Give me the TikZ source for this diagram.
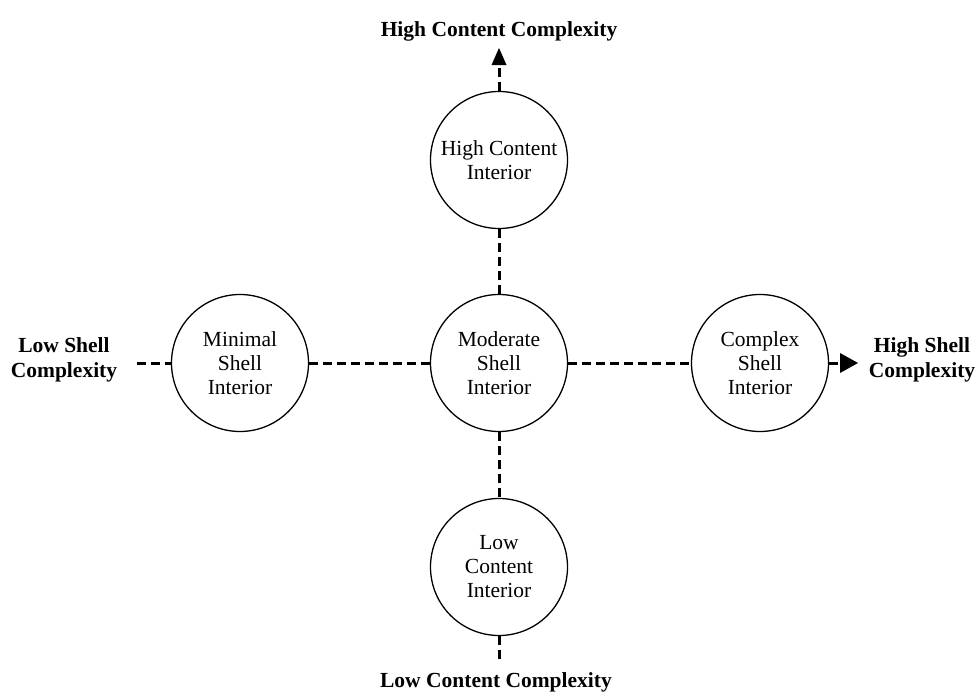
\documentclass[tikz,border=0pt]{standalone}
\usepackage{fontspec}
\setmainfont{Liberation Serif}
\usetikzlibrary{arrows.meta}
\begin{document}
\begin{tikzpicture}[x=1pt,y=-1pt,
  roombox/.style={circle,draw=black,line width=1.3pt,minimum size=137pt,inner sep=0pt,align=center,
    font=\fontsize{21.5}{24}\selectfont},
  axislabel/.style={align=center,font=\fontsize{21.5}{25.5}\selectfont\bfseries,inner sep=0pt},
  dashline/.style={draw=black,line width=3pt,dash pattern=on 9pt off 5pt},
  tipup/.style={-{Triangle[length=17pt,width=15pt,line width=0pt]}},
  tipright/.style={-{Triangle[length=18pt,width=20pt,line width=0pt]}}
]
\useasboundingbox (0,0) rectangle (979,693);
% circles
\node[roombox] (top) at (499,160) {High Content\\Interior};
\node[roombox] (mid) at (499,363) {Moderate\\Shell\\Interior};
\node[roombox] (bot) at (499,567) {Low\\Content\\Interior};
\node[roombox] (lft) at (240,363) {Minimal\\Shell\\Interior};
\node[roombox] (rgt) at (760,363) {Complex\\Shell\\Interior};
% labels
\node[axislabel,anchor=base] (tlab) at (499,37) {High Content Complexity};
\node[axislabel,anchor=base] (blab) at (496,687) {Low Content Complexity};
\node[axislabel] (llab) at (64,360) {Low Shell\\Complexity};
\node[axislabel] (rlab) at (922,360) {High Shell\\Complexity};
% free ends
\coordinate (toptip) at (499,48);
\coordinate (rtip) at (858,363);
\coordinate (lend) at (137,363);
\coordinate (bend) at (499,663);
% connectors
\draw[dashline,tipup] (top.north) -- (toptip);
\draw[dashline] (top.south) -- (mid.north);
\draw[dashline] (mid.south) -- (bot.north);
\draw[dashline] (bot.south) -- (bend);
\draw[dashline] (lend) -- (lft.west);
\draw[dashline] (lft.east) -- (mid.west);
\draw[dashline] (mid.east) -- (rgt.west);
\draw[dashline,tipright] (rgt.east) -- (rtip);
\end{tikzpicture}
\end{document}
